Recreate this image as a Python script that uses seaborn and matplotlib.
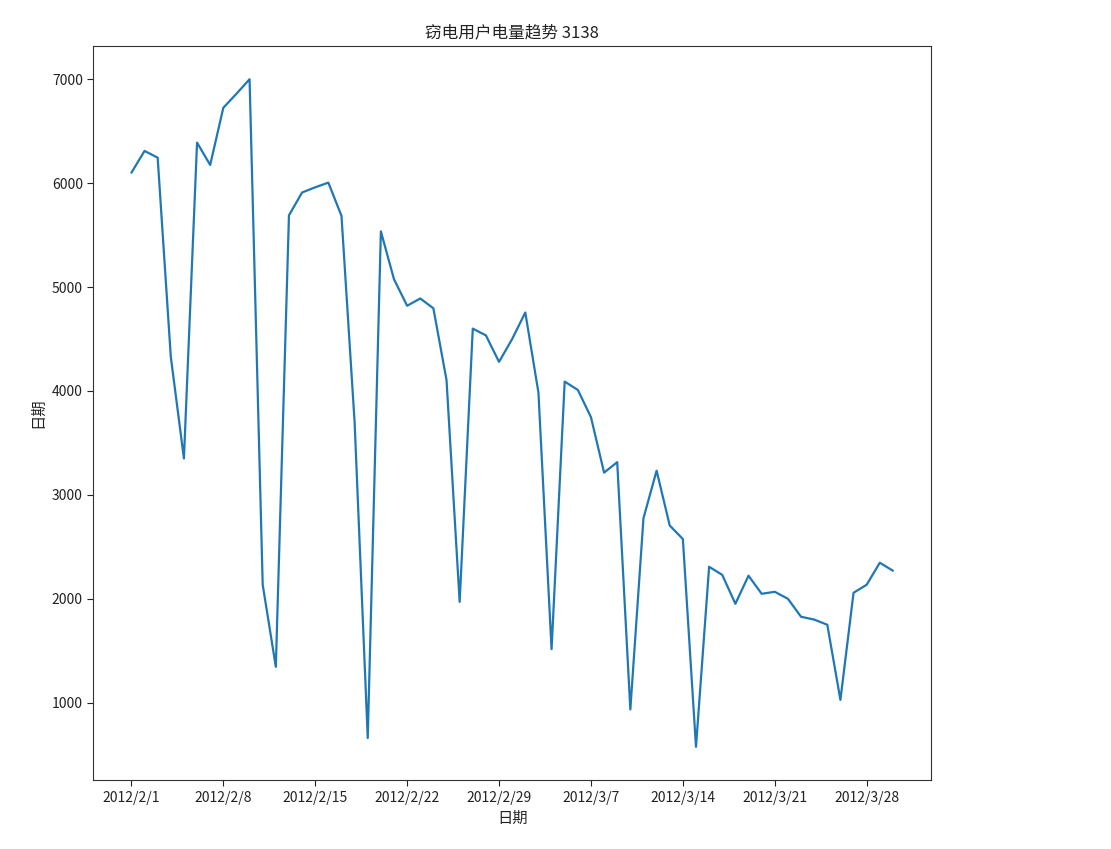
import pandas as pd
import numpy as np
import matplotlib
matplotlib.use("Agg")
import matplotlib.pyplot as plt
import matplotlib.ticker as mticker
import matplotlib.dates as mdates
import seaborn as sns

# =====================================================
# DATA
# =====================================================
start_date = "2012-02-01"
end_date = "2012-03-30"
user_id = 3138

usage = [
    6100, 6310, 6245, 4330, 3350, 6390, 6175, 6725, 6860, 7000,
    2135, 1345, 5690, 5910, 5960, 6005, 5685, 3700, 660, 5536,
    5075, 4820, 4890, 4795, 4105, 1970, 4600, 4535, 4280, 4500,
    4755, 3985, 1515, 4090, 4010, 3748, 3214, 3315, 935, 2775,
    3233, 2705, 2575, 575, 2308, 2230, 1952, 2222, 2048, 2067,
    2000, 1827, 1800, 1750, 1027, 2058, 2135, 2347, 2270,
]

# =====================================================
# PLOT
# =====================================================
sns.set_style("ticks")
plt.rcParams["font.family"] = ["Noto Sans CJK SC", "DejaVu Sans"]
plt.rcParams["axes.unicode_minus"] = False

df = pd.DataFrame({
    "date": pd.date_range(start_date, end_date, freq="D"),
    "usage": usage,
})

fig, ax = plt.subplots(figsize=(11.11, 8.49), dpi=100)
fig.subplots_adjust(left=0.084, right=0.838, top=0.946, bottom=0.081)

sns.lineplot(data=df, x="date", y="usage", ax=ax, color="#1f77b4", linewidth=1.6)

ticks = pd.date_range(start_date, end_date, freq="7D")
ax.set_xticks(ticks)
ax.xaxis.set_major_formatter(
    mticker.FuncFormatter(lambda v, pos: (lambda d: f"{d.year}/{d.month}/{d.day}")(mdates.num2date(v)))
)
ax.margins(x=0.05, y=0.05)

for side in ["top", "right", "left", "bottom"]:
    ax.spines[side].set_visible(True)
    ax.spines[side].set_color("#333333")

ax.tick_params(labelsize=10, colors="#222222", length=4)
ax.set_title(f"窃电用户电量趋势 {user_id}", fontsize=12, color="#222222")
ax.set_xlabel("日期", fontsize=11, color="#222222")
ax.set_ylabel("日期", fontsize=11, color="#222222")

fig.savefig("out.png", dpi=100, facecolor="white")
